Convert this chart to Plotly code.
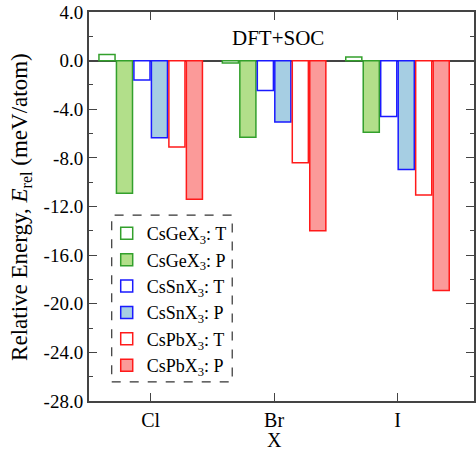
import plotly.graph_objects as go

categories = ["Cl", "Br", "I"]
series_names = ["CsGeX<sub>3</sub>: T", "CsGeX<sub>3</sub>: P",
                "CsSnX<sub>3</sub>: T", "CsSnX<sub>3</sub>: P",
                "CsPbX<sub>3</sub>: T", "CsPbX<sub>3</sub>: P"]
ge_t = [0.5, -0.2, 0.3]
ge_p = [-10.9, -6.3, -5.9]
sn_t = [-1.6, -2.45, -4.6]
sn_p = [-6.35, -5.05, -8.95]
pb_t = [-7.1, -8.4, -11.05]
pb_p = [-11.4, -14.0, -18.9]
ytick_vals = [4, 0, -4, -8, -12, -16, -20, -24, -28]
ytick_text = ["4.0", "0.0", "-4.0", "-8.0", "-12.0", "-16.0", "-20.0", "-24.0", "-28.0"]

series = [ge_t, ge_p, sn_t, sn_p, pb_t, pb_p]
edges = ["#33a02c", "#33a02c", "#1a1aff", "#1a1aff", "#ff1a1a", "#ff1a1a"]
fills = ["white", "#b2df8a", "white", "#a6cee3", "white", "#fb9a99"]

FONT = "Liberation Serif"
fig = go.Figure()
for name, vals, ec, fc in zip(series_names, series, edges, fills):
    fig.add_trace(go.Bar(x=categories, y=vals, name=name + "&nbsp;&nbsp;&nbsp;",
                         marker=dict(color=fc, line=dict(color=ec, width=1.5))))

fig.update_layout(
    width=476, height=451,
    margin=dict(l=89, r=0, t=12, b=50),
    paper_bgcolor="white", plot_bgcolor="white",
    barmode="group", bargap=0.15, bargroupgap=0.08,
    font=dict(family=FONT, size=18, color="black"),
    showlegend=True,
    legend=dict(x=0.046, y=0.478, xanchor="left", yanchor="top",
                bgcolor="rgba(0,0,0,0)", borderwidth=0,
                font=dict(family=FONT, size=18)),
)
fig.update_xaxes(range=[-0.5, 2.62], showline=True, linecolor="#444", linewidth=2,
                 mirror="ticks", ticks="inside", ticklen=8, tickwidth=1.2, tickcolor="#444",
                 showgrid=False, tickfont=dict(family=FONT, size=20))
fig.update_yaxes(range=[-28, 4], tickvals=ytick_vals, ticktext=ytick_text,
                 showline=True, linecolor="#444", linewidth=2,
                 mirror="ticks", ticks="inside", ticklen=8, tickwidth=1.2, tickcolor="#444",
                 minor=dict(dtick=2, ticks="inside", ticklen=4, tickcolor="#444", tickwidth=1.2),
                 showgrid=False, zeroline=True, zerolinecolor="#444", zerolinewidth=1.5,
                 tickfont=dict(family=FONT, size=19))

fig.add_shape(type="rect", xref="paper", yref="paper",
              x0=0.059, x1=0.372, y0=0.049, y1=0.478,
              line=dict(color="#333", width=1.2, dash="dash"), fillcolor="rgba(0,0,0,0)")
fig.add_annotation(text="DFT+SOC", xref="x", yref="y", x=1.03, y=1.9,
                   showarrow=False, font=dict(family=FONT, size=21))
fig.add_annotation(text="X", xref="x", yref="paper", x=1, y=-0.099,
                   xanchor="center", yanchor="middle",
                   showarrow=False, font=dict(family=FONT, size=20))
fig.add_annotation(text="Relative Energy, <i>E</i><sub>rel</sub> (meV/atom)",
                   xref="paper", yref="paper", x=-0.175, y=0.498, textangle=-90,
                   xanchor="center", yanchor="middle",
                   showarrow=False, font=dict(family=FONT, size=23))

fig.write_html("out.html")
